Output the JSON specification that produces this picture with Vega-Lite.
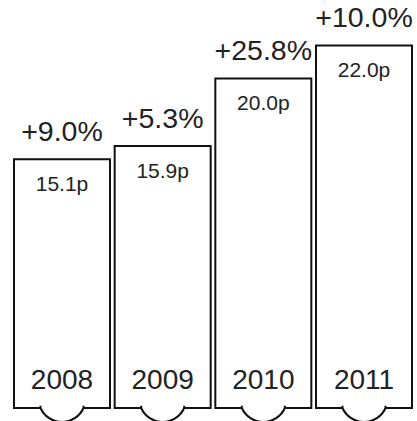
{
  "$schema": "https://vega.github.io/schema/vega-lite/v6.json",
  "width": 408,
  "height": 408,
  "autosize": "none",
  "padding": {"left": 9, "right": 0, "top": 0, "bottom": 13},
  "config": {"view": {"stroke": null}, "text": {"font": "Liberation Sans", "color": "#222"}},
  "data": {
    "values": [
      {"year": "2008", "value": 15.1, "label": "15.1p", "pct": "+9.0%"},
      {"year": "2009", "value": 15.9, "label": "15.9p", "pct": "+5.3%"},
      {"year": "2010", "value": 20.0, "label": "20.0p", "pct": "+25.8%"},
      {"year": "2011", "value": 22.0, "label": "22.0p", "pct": "+10.0%"}
    ]
  },
  "encoding": {
    "x": {"field": "year", "type": "nominal", "axis": null, "scale": {"paddingInner": 0.0464, "paddingOuter": 0.0497}}
  },
  "layer": [
    {
      "mark": {"type": "bar", "fill": "white", "stroke": "#111", "strokeWidth": 2},
      "encoding": {"y": {"field": "value", "type": "quantitative", "axis": null, "scale": {"domain": [0, 24.76], "nice": false, "zero": true}}}
    },
    {
      "mark": {"type": "point", "shape": "M-1,-0.1 L-1,0 A1.094,1.094 0 0 0 1,0 L1,-0.1", "size": 1849, "filled": true, "fill": "white", "stroke": "#111", "strokeWidth": 2, "opacity": 1},
      "encoding": {"y": {"datum": 0, "type": "quantitative"}}
    },
    {
      "mark": {"type": "text", "baseline": "alphabetic", "dy": -18, "fontSize": 28.5},
      "encoding": {"y": {"field": "value", "type": "quantitative"}, "text": {"field": "pct"}}
    },
    {
      "mark": {"type": "text", "baseline": "alphabetic", "dy": 32, "fontSize": 21},
      "encoding": {"y": {"field": "value", "type": "quantitative"}, "text": {"field": "label"}}
    },
    {
      "mark": {"type": "text", "baseline": "alphabetic", "dy": -19, "fontSize": 28},
      "encoding": {"y": {"datum": 0, "type": "quantitative"}, "text": {"field": "year"}}
    }
  ]
}
